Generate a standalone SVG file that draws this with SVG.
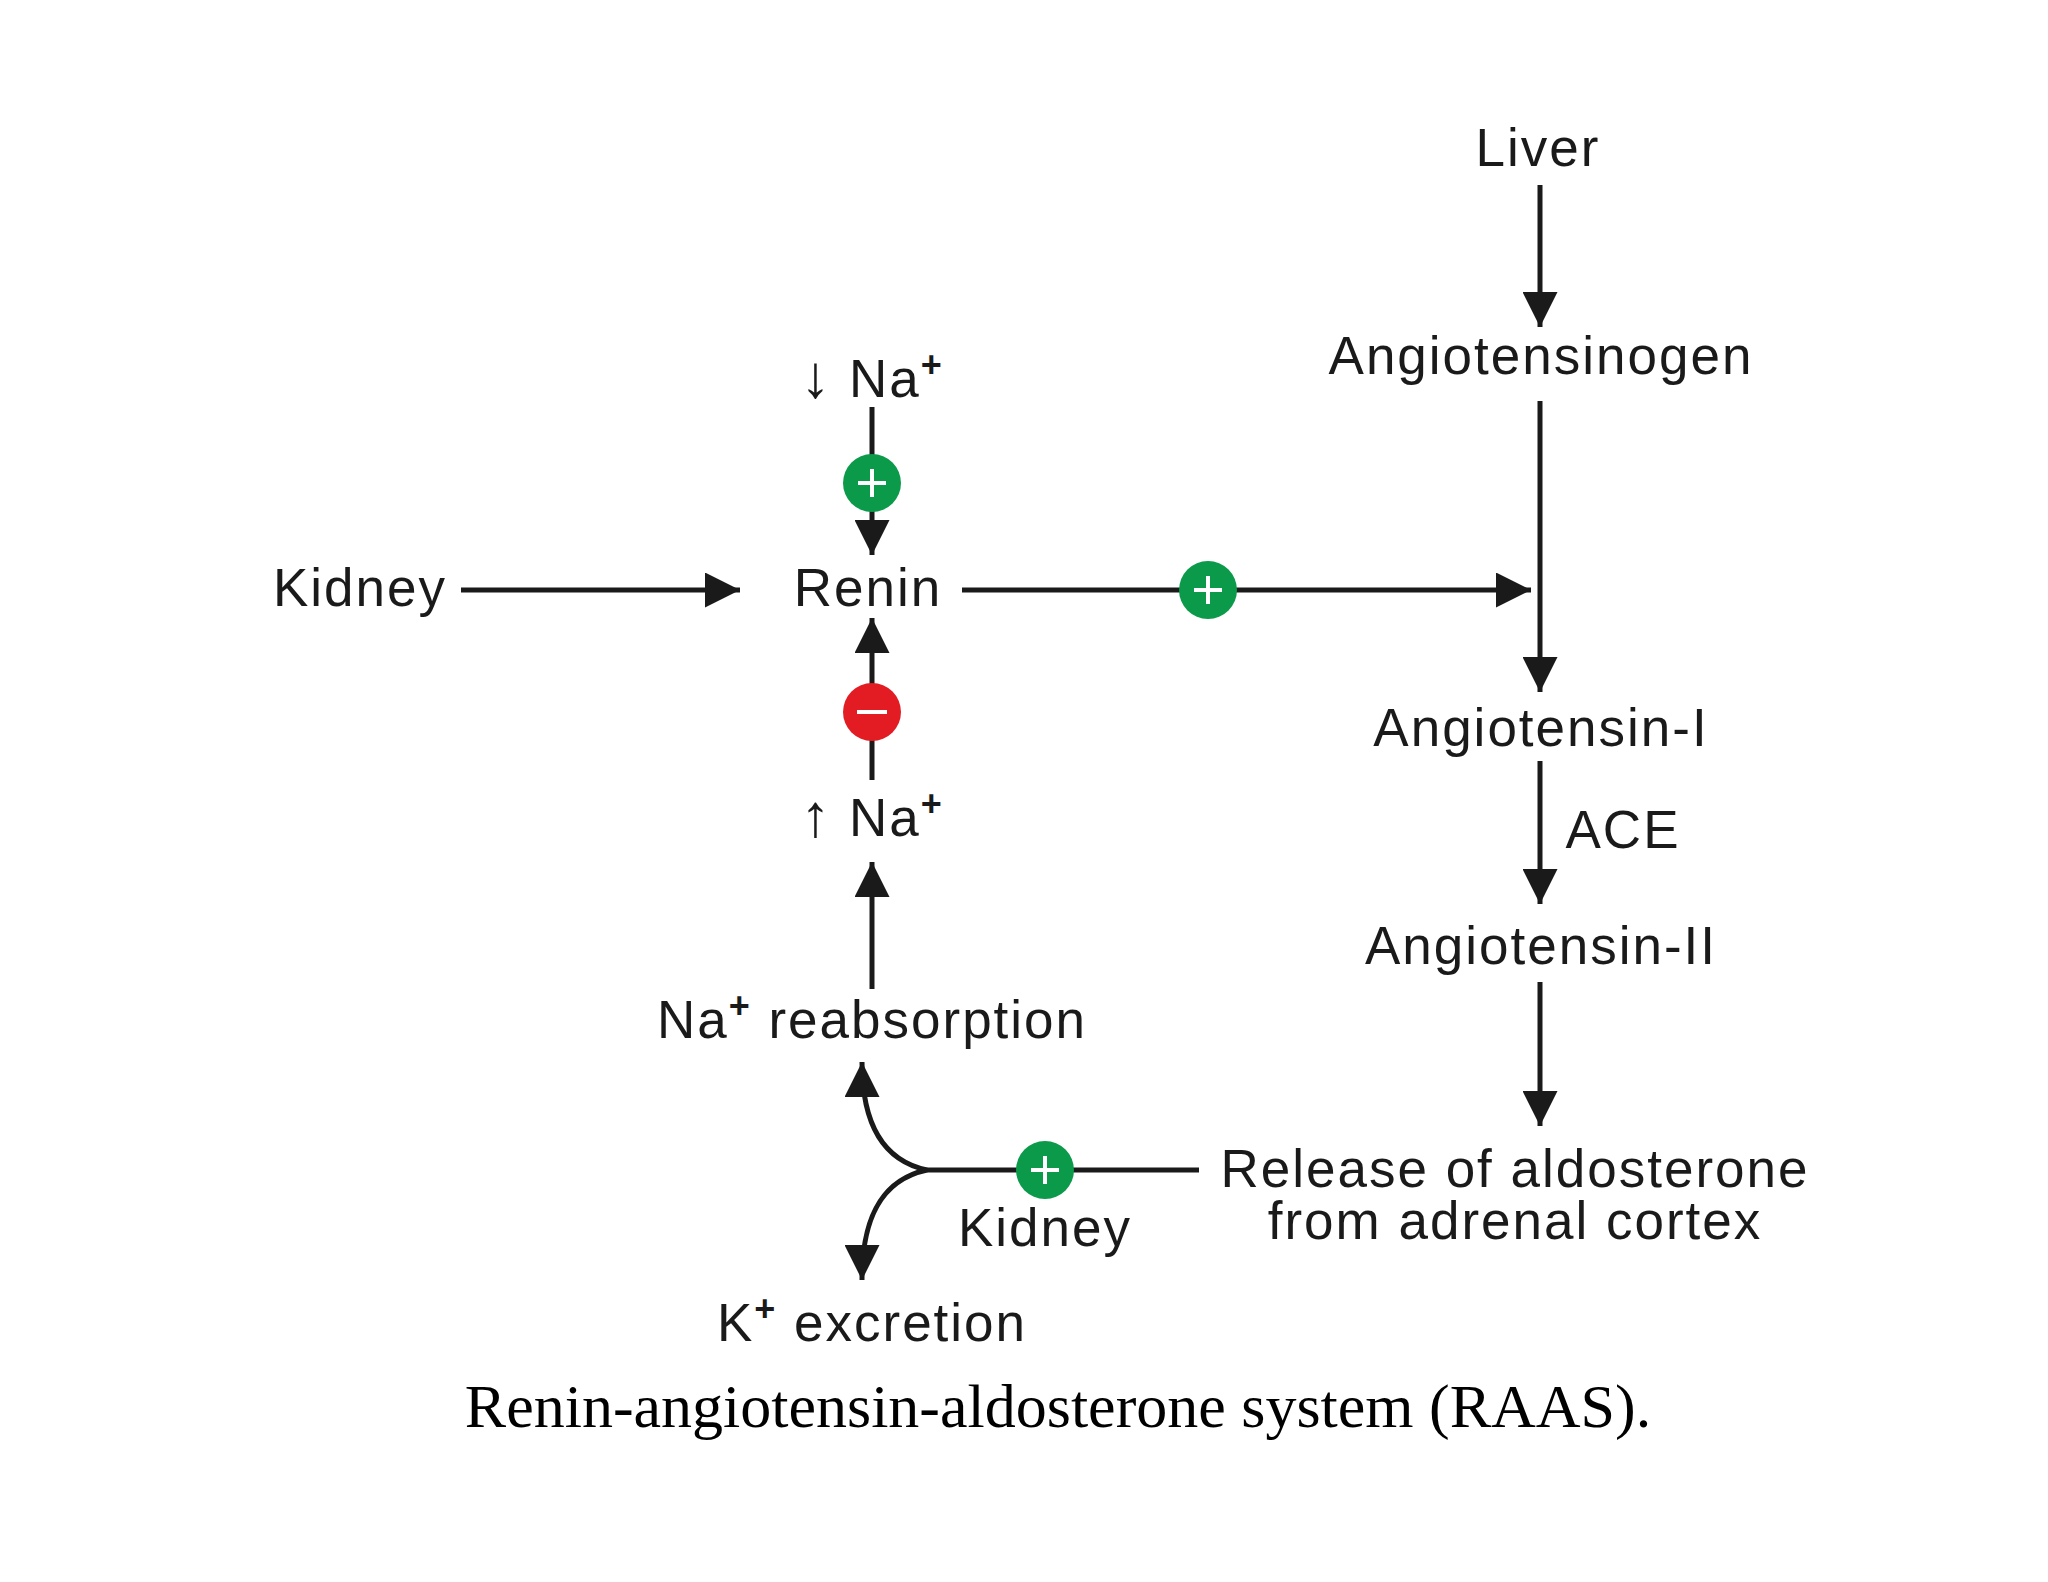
<svg xmlns="http://www.w3.org/2000/svg" width="2048" height="1582" viewBox="0 0 2048 1582">
<defs>
<marker id="ah" viewBox="0 0 10 10" refX="10" refY="5" markerWidth="7" markerHeight="7" markerUnits="strokeWidth" orient="auto"><path d="M0,0 L10,5 L0,10 z" fill="#1a1a1a"/></marker>
<style>
text{font-family:"Liberation Sans",Arial,sans-serif;font-size:53px;fill:#1a1a1a;text-anchor:middle;letter-spacing:2px}
.sup{font-size:36px;font-weight:bold}
.arr{font-size:60px}
.cap{font-family:"Liberation Serif","Times New Roman",serif;font-size:62px;letter-spacing:0;fill:#000}
.ln{stroke:#1a1a1a;stroke-width:5;fill:none}
.g{fill:#0a9a4a}.r{fill:#e31b23}
.sign{stroke:#fff;stroke-width:4}
</style>
</defs>
<rect width="2048" height="1582" fill="#fff"/>
<g id="connectors">
<line class="ln" x1="1540" y1="185" x2="1540" y2="327" marker-end="url(#ah)"/>
<line class="ln" x1="1540" y1="401" x2="1540" y2="692" marker-end="url(#ah)"/>
<line class="ln" x1="461" y1="590" x2="740" y2="590" marker-end="url(#ah)"/>
<line class="ln" x1="962" y1="590" x2="1531" y2="590" marker-end="url(#ah)"/>
<line class="ln" x1="872" y1="407" x2="872" y2="555" marker-end="url(#ah)"/>
<line class="ln" x1="872" y1="780" x2="872" y2="618" marker-end="url(#ah)"/>
<line class="ln" x1="872" y1="989" x2="872" y2="862" marker-end="url(#ah)"/>
<line class="ln" x1="1540" y1="761" x2="1540" y2="904" marker-end="url(#ah)"/>
<line class="ln" x1="1540" y1="982" x2="1540" y2="1126" marker-end="url(#ah)"/>
<line class="ln" x1="927" y1="1170" x2="1199" y2="1170"/>
<path class="ln" d="M927,1170 C880,1160 862,1120 862,1062" marker-end="url(#ah)"/>
<path class="ln" d="M927,1170 C880,1180 862,1220 862,1280" marker-end="url(#ah)"/>
</g>
<g id="signs">
<g><circle class="g" cx="872" cy="483" r="29"/><path class="sign" d="M858,483h28M872,469v28"/></g>
<g><circle class="g" cx="1208" cy="590" r="29"/><path class="sign" d="M1194,590h28M1208,576v28"/></g>
<g><circle class="r" cx="872" cy="712" r="29"/><path class="sign" d="M857,712h30" stroke-width="7"/></g>
<g><circle class="g" cx="1045" cy="1170" r="29"/><path class="sign" d="M1031,1170h28M1045,1156v28"/></g>
</g>
<g id="liver"><text x="1538" y="166">Liver</text></g>
<g id="angiotensinogen"><text x="1541" y="374">Angiotensinogen</text></g>
<g id="kidney1"><text x="360" y="606">Kidney</text></g>
<g id="renin"><text x="868" y="606">Renin</text></g>
<g id="na-down"><text x="872" y="397"><tspan class="arr">↓</tspan> Na<tspan class="sup" dy="-20">+</tspan></text></g>
<g id="na-up"><text x="872" y="836"><tspan class="arr">↑</tspan> Na<tspan class="sup" dy="-20">+</tspan></text></g>
<g id="angiotensin1"><text x="1541" y="746">Angiotensin-I</text></g>
<g id="ace"><text x="1623" y="848">ACE</text></g>
<g id="angiotensin2"><text x="1541" y="964">Angiotensin-II</text></g>
<g id="aldosterone"><text x="1515" y="1187">Release of aldosterone</text><text x="1515" y="1239">from adrenal cortex</text></g>
<g id="na-reabs"><text x="872" y="1038">Na<tspan class="sup" dy="-20">+</tspan><tspan dy="20"> reabsorption</tspan></text></g>
<g id="kidney2"><text x="1045" y="1246">Kidney</text></g>
<g id="k-excr"><text x="872" y="1341">K<tspan class="sup" dy="-20">+</tspan><tspan dy="20"> excretion</tspan></text></g>
<text class="cap" x="1058" y="1427">Renin-angiotensin-aldosterone system (RAAS).</text>
</svg>
